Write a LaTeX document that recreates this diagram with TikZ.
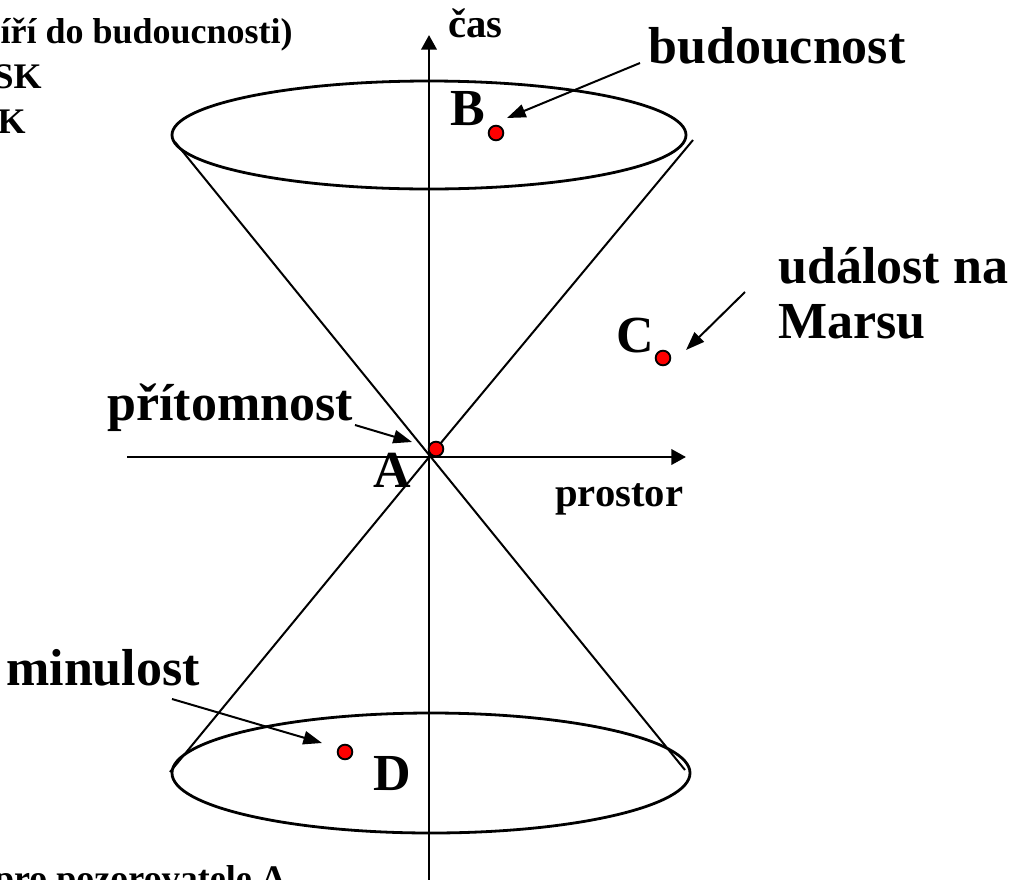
\documentclass[tikz,border=0pt]{standalone}
\usepackage{fontspec}
\setmainfont{Liberation Serif}
\usetikzlibrary{arrows.meta}
\tikzset{
  ax/.style={line width=2.1pt,-{Triangle[length=11pt,width=11.5pt]}},
  cone/.style={line width=1.5pt},
  ell/.style={line width=2.1pt},
  ptr/.style={line width=1.5pt,-{Triangle[length=14pt,width=10pt]}},
  dot/.style={circle,draw=black,fill=red,line width=1.4pt,minimum size=11pt,inner sep=0pt},
  big/.style={font=\fontsize{39}{44}\selectfont\bfseries,inner sep=0pt},
  mid/.style={font=\fontsize{30.5}{34}\selectfont\bfseries,inner sep=0pt},
  small/.style={font=\fontsize{27}{33}\selectfont\bfseries,inner sep=0pt}
}
\begin{document}
\begin{tikzpicture}[x=0.75pt,y=-0.75pt]
\useasboundingbox (0,0) rectangle (1018,879);
\clip (0,0) rectangle (1018,879);
% axes
\coordinate (O) at (430,456);
\coordinate (tb) at (429,900);
\coordinate (tt) at (429,35);
\coordinate (xl) at (127,457);
\coordinate (xr) at (686,457);
\draw[ax] (tb) -- (tt);
\draw[ax] (xl) -- (xr);
% ellipses
\draw[ell] (429,135) ellipse [x radius=257, y radius=54];
\draw[ell] (431,773) ellipse [x radius=259, y radius=60];
% cone
\coordinate (c1) at (175,142);
\coordinate (c2) at (685,770);
\coordinate (c3) at (693,140);
\coordinate (c4) at (170,772);
\draw[cone] (c1) -- (O) -- (c2);
\draw[cone] (c3) -- (O) -- (c4);
% dots
\node[dot] (A) at (436,449) {};
\node[dot] (B) at (496,133) {};
\node[dot] (C) at (663,358) {};
\node[dot] (D) at (345,752) {};
% labels
\node[mid,anchor=base west] (cas) at (448,37) {čas};
\node[big,anchor=base west] (bud) at (648,63) {budoucnost};
\node[big,anchor=base west] (lB) at (450,125) {B};
\node[big,anchor=base west] (mars1) at (778,283) {událost na};
\node[big,anchor=base west] (mars2) at (778,338) {Marsu};
\node[big,anchor=base west] (lC) at (616,352) {C};
\node[big,anchor=base west] (prit) at (107,420) {přítomnost};
\node[big,anchor=base west] (lA) at (373,487) {A};
\node[mid,anchor=base west] (pros) at (555,506) {prostor};
\node[big,anchor=base west] (min) at (6,685) {minulost};
\node[big,anchor=base west] (lD) at (373,790) {D};
\node[small,anchor=base east] (t1) at (293,43) {se šíří do budoucnosti)};
\node[small,anchor=base east] (t2) at (42,88) {SK};
\node[small,anchor=base east] (t3) at (26,133) {K};
\node[small,anchor=base east] (t4) at (287,890) {pro pozorovatele A};
% pointers
\coordinate (sB) at (640,63);  \coordinate (eB) at (507,118);
\coordinate (sC) at (745,292); \coordinate (eC) at (686,350);
\coordinate (sA) at (355,425); \coordinate (eA) at (412,442);
\coordinate (sD) at (172,699); \coordinate (eD) at (322,743);
\draw[ptr] (sB) -- (eB);
\draw[ptr] (sC) -- (eC);
\draw[ptr] (sA) -- (eA);
\draw[ptr] (sD) -- (eD);
\end{tikzpicture}
\end{document}
